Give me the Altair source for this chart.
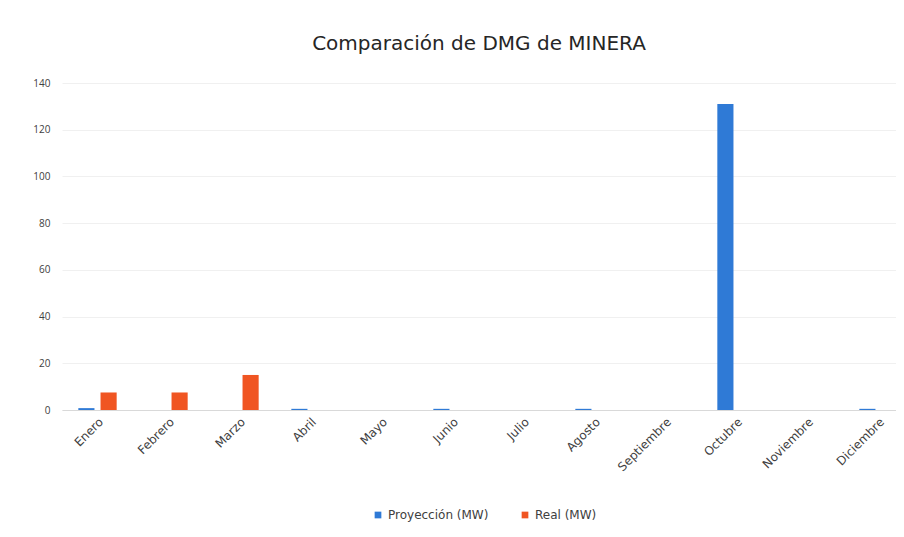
import altair as alt
import pandas as pd

months = ["Enero", "Febrero", "Marzo", "Abril", "Mayo", "Junio", "Julio",
          "Agosto", "Septiembre", "Octubre", "Noviembre", "Diciembre"]
series_names = ["Proyección (MW)", "Real (MW)"]
proyeccion = [0.8, 0, 0, 0.5, 0, 0.5, 0, 0.5, 0, 131, 0, 0.5]
real = [7.5, 7.5, 15, 0, 0, 0, 0, 0, 0, 0, 0, 0]
y_ticks = [0, 20, 40, 60, 80, 100, 120, 140]

rows = []
for i, m in enumerate(months):
    rows.append({"mes": m, "serie": series_names[0], "valor": proyeccion[i]})
    rows.append({"mes": m, "serie": series_names[1], "valor": real[i]})
df = pd.DataFrame(rows)

chart = alt.Chart(df).mark_bar().encode(
    x=alt.X("mes:N", sort=months,
            scale=alt.Scale(range=[0, 852], paddingInner=0.46, paddingOuter=0.23),
            axis=alt.Axis(title=None, labelAngle=-45, labelAlign="right",
                          labelBaseline="top", labelFontSize=12, labelColor="#404040",
                          labelFont="DejaVu Sans", ticks=False, domainColor="#d9d9d9",
                          labelPadding=6)),
    xOffset=alt.XOffset("serie:N", sort=series_names,
                        scale=alt.Scale(paddingInner=0.273, paddingOuter=0)),
    y=alt.Y("valor:Q", scale=alt.Scale(domain=[0, 140], nice=False),
            axis=alt.Axis(title=None, values=y_ticks, domain=False, ticks=False,
                          gridColor="#f0f0f0", labelFontSize=10, labelColor="#404040",
                          labelFont="Open Sans", labelPadding=12)),
    color=alt.Color("serie:N",
                    scale=alt.Scale(domain=series_names, range=["#2f7ad6", "#f05522"]),
                    legend=alt.Legend(title=None, orient="none", legendX=310, legendY=426,
                                      direction="horizontal", symbolType="square",
                                      symbolSize=45, labelFontSize=12, labelColor="#404040",
                                      labelFont="DejaVu Sans", columnPadding=30)),
).properties(
    width=834,
    height=327,
    title=alt.TitleParams("Comparación de DMG de MINERA", fontSize=20, font="DejaVu Sans",
                          fontWeight="normal", color="#262626", offset=24, anchor="middle"),
    autosize=alt.AutoSizeParams(type="none"),
    padding={"left": 54, "top": 75, "right": 0, "bottom": 120},
).configure_view(strokeWidth=0)

chart.save("out.html", embed_options={"renderer": "svg", "actions": False})
